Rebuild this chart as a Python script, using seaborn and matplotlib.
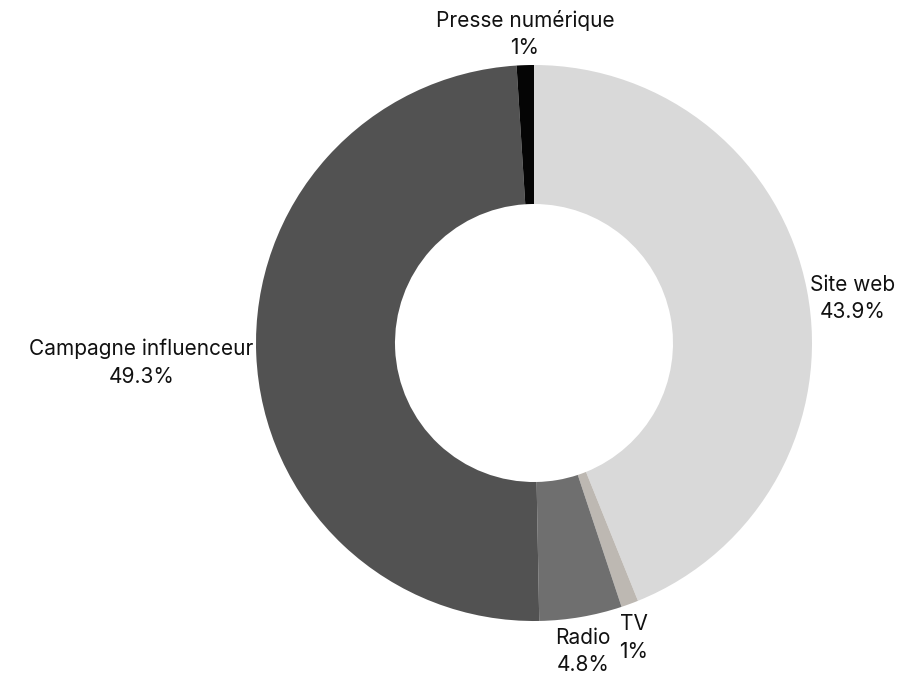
import numpy as np
import seaborn as sns
import matplotlib.pyplot as plt

# données du graphique
categories = ['Site web', 'TV', 'Radio', 'Campagne influenceur', 'Presse numérique']
valeurs = [43.9, 1.0, 4.8, 49.3, 1.0]
etiquettes = ['43.9%', '1%', '4.8%', '49.3%', '1%']
couleurs = ['#d9d9d9', '#bdb8b2', '#6f6f6f', '#525252', '#050505']

sns.set_theme(style='white')
plt.rcParams['font.family'] = ['Inter', 'DejaVu Sans']

fig = plt.figure(figsize=(9.02, 6.76), dpi=100)
W, H = 902, 676
cx, cy, R = 534, 343, 278
ax = fig.add_axes([(cx - R) / W, (H - cy - R) / H, 2 * R / W, 2 * R / H])

wedges, _ = ax.pie(valeurs, colors=couleurs, startangle=90, counterclock=False,
                   wedgeprops=dict(width=0.5, linewidth=0))
ax.set_xlim(-1, 1)
ax.set_ylim(-1, 1)
ax.set_aspect('equal')
ax.axis('off')

# étiquettes autour de l'anneau
for w, nom, pct in zip(wedges, categories, etiquettes):
    ang = np.deg2rad((w.theta1 + w.theta2) / 2)
    c, s = np.cos(ang), np.sin(ang)
    if abs(c) < 0.5:
        ha = 'center'
    else:
        ha = 'left' if c > 0 else 'right'
    if s > 0.8:
        va, r = 'bottom', 1.025
    elif s < -0.8:
        va, r = 'top', 1.04
    else:
        va, r = 'center', 1.0
    x, y = r * c, r * s
    if va == 'center':
        x += 0.01 if c > 0 else -0.01
        y -= 0.03
    ax.text(x, y, f'{nom}\n{pct}', ha=ha, va=va, fontsize=15,
            multialignment='center', color='#111111', linespacing=1.45)

fig.savefig('out.png', dpi=100)
